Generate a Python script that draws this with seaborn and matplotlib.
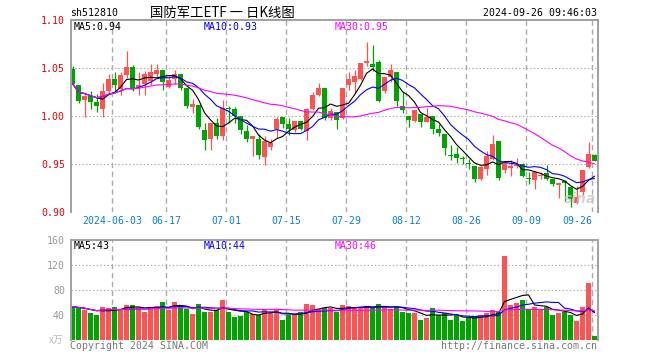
import numpy as np
import pandas as pd
import matplotlib
matplotlib.use("Agg")
import matplotlib.pyplot as plt
import seaborn as sns

# ---------------- data ----------------
dates = ["05-23", "05-24", "05-27", "05-28", "05-29", "05-30", "05-31",
         "06-03", "06-04", "06-05", "06-06", "06-07", "06-11", "06-12", "06-13", "06-14",
         "06-17", "06-18", "06-19", "06-20", "06-21", "06-24", "06-25", "06-26", "06-27", "06-28",
         "07-01", "07-02", "07-03", "07-04", "07-05", "07-08", "07-09", "07-10", "07-11", "07-12",
         "07-15", "07-16", "07-17", "07-18", "07-19", "07-22", "07-23", "07-24", "07-25", "07-26",
         "07-29", "07-30", "07-31", "08-01", "08-02", "08-05", "08-06", "08-07", "08-08", "08-09",
         "08-12", "08-13", "08-14", "08-15", "08-16", "08-19", "08-20", "08-21", "08-22", "08-23",
         "08-26", "08-27", "08-28", "08-29", "08-30", "09-02", "09-03", "09-04", "09-05", "09-06",
         "09-09", "09-10", "09-11", "09-12", "09-13", "09-18", "09-19", "09-20",
         "09-23", "09-24", "09-25", "09-26"]

opens = [1.049, 1.033, 1.017, 1.021, 1.015, 1.008, 1.026, 1.039, 1.028, 1.043,
         1.051, 1.031, 1.034, 1.037, 1.044, 1.048, 1.031, 1.039, 1.044, 1.029,
         1.010, 1.012, 0.986, 0.976, 0.993, 0.980, 1.009, 1.008, 1.000, 0.985,
         0.976, 0.976, 0.958, 0.968, 0.987, 0.999, 0.992, 0.986, 0.995, 0.985,
         1.008, 1.022, 1.030, 0.998, 1.004, 0.998, 1.033, 1.036, 1.039, 1.056,
         1.055, 1.057, 1.026, 1.041, 1.046, 1.011, 1.000, 0.995, 1.002, 0.994,
         1.000, 0.987, 0.982, 0.960, 0.961, 0.957, 0.951, 0.948, 0.935, 0.945,
         0.956, 0.974, 0.944, 0.946, 0.948, 0.950, 0.936, 0.934, 0.938, 0.941,
         0.935, 0.928, 0.933, 0.926, 0.910, 0.921, 0.947, 0.960]
highs = [1.052, 1.033, 1.022, 1.026, 1.023, 1.035, 1.044, 1.046, 1.046, 1.068,
         1.053, 1.046, 1.047, 1.055, 1.054, 1.048, 1.042, 1.048, 1.044, 1.029,
         1.018, 1.012, 0.993, 0.993, 0.998, 1.017, 1.011, 1.010, 1.000, 0.991,
         0.980, 0.982, 0.979, 0.976, 0.999, 0.999, 0.998, 0.995, 0.995, 1.009,
         1.025, 1.035, 1.030, 1.009, 1.004, 1.029, 1.046, 1.048, 1.056, 1.077,
         1.074, 1.059, 1.041, 1.055, 1.046, 1.026, 1.000, 1.007, 1.002, 1.009,
         1.000, 0.992, 0.982, 0.970, 0.968, 0.959, 0.956, 0.948, 0.949, 0.964,
         0.981, 0.974, 0.952, 0.955, 0.957, 0.951, 0.942, 0.943, 0.942, 0.949,
         0.935, 0.931, 0.934, 0.926, 0.927, 0.944, 0.973, 0.961]
lows = [1.033, 1.014, 0.999, 1.008, 1.004, 0.999, 1.023, 1.024, 1.022, 1.040,
        1.026, 1.022, 1.022, 1.033, 1.040, 1.027, 1.030, 1.034, 1.027, 1.009,
        1.003, 0.987, 0.965, 0.965, 0.976, 0.975, 0.993, 0.993, 0.982, 0.973,
        0.959, 0.956, 0.949, 0.965, 0.977, 0.988, 0.981, 0.984, 0.986, 0.975,
        1.007, 1.021, 0.996, 0.996, 0.987, 0.997, 1.027, 1.024, 1.038, 1.052,
        1.047, 1.015, 1.024, 1.036, 1.011, 1.003, 0.989, 0.994, 0.989, 0.994,
        0.982, 0.979, 0.960, 0.954, 0.951, 0.950, 0.945, 0.932, 0.934, 0.939,
        0.955, 0.934, 0.941, 0.938, 0.946, 0.937, 0.930, 0.924, 0.935, 0.934,
        0.927, 0.915, 0.912, 0.906, 0.909, 0.918, 0.946, 0.953]
closes = [1.034, 1.016, 1.021, 1.015, 1.011, 1.026, 1.039, 1.033, 1.043, 1.051,
          1.029, 1.033, 1.044, 1.046, 1.048, 1.036, 1.038, 1.044, 1.030, 1.011,
          1.013, 0.989, 0.975, 0.993, 0.980, 1.009, 1.008, 1.000, 0.986, 0.976,
          0.980, 0.960, 0.974, 0.972, 0.997, 0.992, 0.987, 0.995, 0.987, 1.008,
          1.022, 1.030, 0.998, 1.006, 0.996, 1.029, 1.039, 1.042, 1.056, 1.058,
          1.051, 1.016, 1.041, 1.048, 1.016, 1.007, 0.996, 1.007, 0.994, 0.999,
          0.987, 0.983, 0.967, 0.959, 0.957, 0.956, 0.950, 0.935, 0.947, 0.959,
          0.971, 0.936, 0.951, 0.948, 0.949, 0.938, 0.935, 0.942, 0.939, 0.935,
          0.929, 0.930, 0.931, 0.914, 0.916, 0.944, 0.961, 0.953]
volumes = [53, 50, 48, 42, 39, 52, 50, 52, 48, 55,
           55, 52, 44, 52, 54, 60, 47, 60, 53, 49,
           41, 57, 45, 44, 47, 63, 45, 36, 37, 44,
           41, 39, 49, 42, 49, 32, 39, 39, 45, 57,
           55, 49, 50, 51, 45, 55, 54, 51, 53, 53,
           51, 57, 52, 49, 53, 45, 42, 42, 31, 34,
           50, 39, 42, 32, 39, 29, 36, 36, 39, 42,
           47, 44, 134, 55, 58, 63, 49, 53, 49, 53,
           39, 42, 44, 39, 29, 52, 91, 5]

tick_dates = ["06-03", "06-17", "07-01", "07-15", "07-29", "08-12", "08-26", "09-09", "09-26"]
tick_labels = ["2024-06-03", "06-17", "07-01", "07-15", "07-29", "08-12", "08-26", "09-09", "09-26"]
price_ticks = [0.90, 0.95, 1.00, 1.05, 1.10]
price_tick_labels = ["0.90", "0.95", "1.00", "1.05", "1.10"]
vol_ticks = [40, 80, 120, 160]
vol_tick_labels = ["40", "80", "120", "160"]

title_code = "sh512810"
title_name = "国防军工ETF 一 日K线图"
timestamp = "2024-09-26 09:46:03"
price_ma_labels = ["MA5:0.94", "MA10:0.93", "MA30:0.95"]
vol_ma_labels = ["MA5:43", "MA10:44", "MA30:46"]
vol_unit = "x万"
copyright_text = "Copyright 2024 SINA.COM"
url_text = "http://finance.sina.com.cn"

# ---------------- style ----------------
sns.set_style("white")
plt.rcParams['font.family'] = ['DejaVu Sans Mono', 'Noto Sans CJK SC']
plt.rcParams['lines.scale_dashes'] = False

RED = "#ff5252"
GREEN = "#00a400"
MA_COLORS = ["#000000", "#0000ff", "#ff00ff"]
GRID = "#aaaaaa"
FRAME = "#a0a0a0"
XLAB = "#0a7fd0"

W, H = 660, 360
fig = plt.figure(figsize=(W / 100, H / 100), dpi=100)

def fx(px):
    return px / W

def fy(py):
    return 1 - py / H

left_px, right_px = 70.5, 597.5
ax = fig.add_axes([fx(left_px), fy(212.3), fx(right_px - left_px), (212.3 - 20.3) / H])
axv = fig.add_axes([fx(left_px), fy(339.5), fx(right_px - left_px), (339.5 - 240.0) / H])

df = pd.DataFrame({"date": dates, "open": opens, "high": highs, "low": lows,
                   "close": closes, "volume": volumes})
df["idx"] = np.arange(len(df))
up = df["close"] >= df["open"]
colors = np.where(up, RED, GREEN)

for w in (5, 10, 30):
    df[f"ma{w}"] = df["close"].rolling(w, min_periods=1).mean()
    df[f"vma{w}"] = df["volume"].rolling(w, min_periods=1).mean()

xlim = (-0.35, 87.5)

# ---------------- price panel ----------------
body_w = 0.82
ax.vlines(df["idx"], df["low"], df["high"], colors=colors, linewidth=0.9, zorder=2)
body_bottom = np.minimum(df["open"], df["close"])
body_h = np.maximum(np.abs(df["close"] - df["open"]), 0.0009)
ax.bar(df["idx"], body_h, bottom=body_bottom, width=body_w, color=colors,
       linewidth=0, zorder=2)
for w, c in zip((5, 10, 30), MA_COLORS):
    sns.lineplot(x=df["idx"], y=df[f"ma{w}"], ax=ax, color=c, linewidth=0.8,
                 zorder=3, legend=False)

ax.set_xlim(*xlim)
ax.set_ylim(0.90, 1.10)
for yv in price_ticks[1:-1]:
    ax.axhline(yv, color=GRID, linewidth=0.8, linestyle=(0, (1.0, 1.6)), zorder=1)
ax.set_yticks(price_ticks)
ax.set_yticklabels(price_tick_labels, color="#ee0000", fontsize=7.1)

# ---------------- volume panel ----------------
axv.bar(df["idx"], df["volume"], width=body_w, color=colors, linewidth=0, zorder=2)
for w, c in zip((5, 10, 30), MA_COLORS):
    sns.lineplot(x=df["idx"], y=df[f"vma{w}"], ax=axv, color=c, linewidth=0.8,
                 zorder=3, legend=False)
axv.set_xlim(*xlim)
axv.set_ylim(0, 160)
for yv in vol_ticks[:-1]:
    axv.axhline(yv, color=GRID, linewidth=0.8, linestyle=(0, (1.0, 1.6)), zorder=1)
axv.set_yticks(vol_ticks)
axv.set_yticklabels(vol_tick_labels, color="#999999", fontsize=7.1)

# ---------------- common formatting ----------------
tick_pos = [dates.index(d) - 0.38 for d in tick_dates]
for a in (ax, axv):
    a.set_xlabel("")
    a.set_ylabel("")
    a.set_xticks([])
    a.tick_params(axis="y", length=0, pad=4)
    for s in ("top", "left", "right"):
        a.spines[s].set_visible(True)
        a.spines[s].set_color(FRAME)
        a.spines[s].set_linewidth(1.4)
    a.spines["bottom"].set_visible(False)
    for p in tick_pos:
        a.axvline(p, color=GRID, linewidth=1.0, linestyle=(0, (3.8, 2.6)), zorder=1)

# x labels (blue)
for p, lab in zip(tick_pos, tick_labels):
    ha = "right" if lab == tick_labels[-1] else "center"
    xp = p + 0.05 if ha == "right" else p
    ax.text(xp, -0.02, lab, transform=ax.get_xaxis_transform(), ha=ha, va="top",
            color=XLAB, fontsize=7.1)

# ---------------- texts ----------------
fig.text(fx(70), fy(13.3), title_code, ha="left", va="center", fontsize=7.1, color="black")
fig.text(fx(150), fy(12.5), title_name, ha="left", va="center", fontsize=9.6,
         color="black", family=["Noto Sans CJK SC", "DejaVu Sans"])
fig.text(fx(597), fy(13.3), timestamp, ha="right", va="center", fontsize=7.1, color="black")

for lab, xpx, c in zip(price_ma_labels, (74, 204, 334.5), MA_COLORS):
    fig.text(fx(xpx), fy(26.5), lab, ha="left", va="center", fontsize=7.1, color=c)
for lab, xpx, c in zip(vol_ma_labels, (74, 204, 334.5), MA_COLORS):
    fig.text(fx(xpx), fy(246.3), lab, ha="left", va="center", fontsize=7.1, color=c)

fig.text(fx(63), fy(340), vol_unit, ha="right", va="center", fontsize=7,
         color="#bbbbbb", family=["Noto Sans CJK SC", "DejaVu Sans"])
fig.text(fx(70), fy(346), copyright_text, ha="left", va="center", fontsize=7.1, color="#777777")
fig.text(fx(597), fy(346), url_text, ha="right", va="center", fontsize=7.1, color="#777777")

# sina watermark
fig.text(fx(596), fy(199), "sina", ha="right", va="center", fontsize=10,
         fontweight="bold", style="italic", color="#c8c8c8", alpha=0.8,
         family=["DejaVu Sans"])

fig.savefig("out.png", dpi=100)
